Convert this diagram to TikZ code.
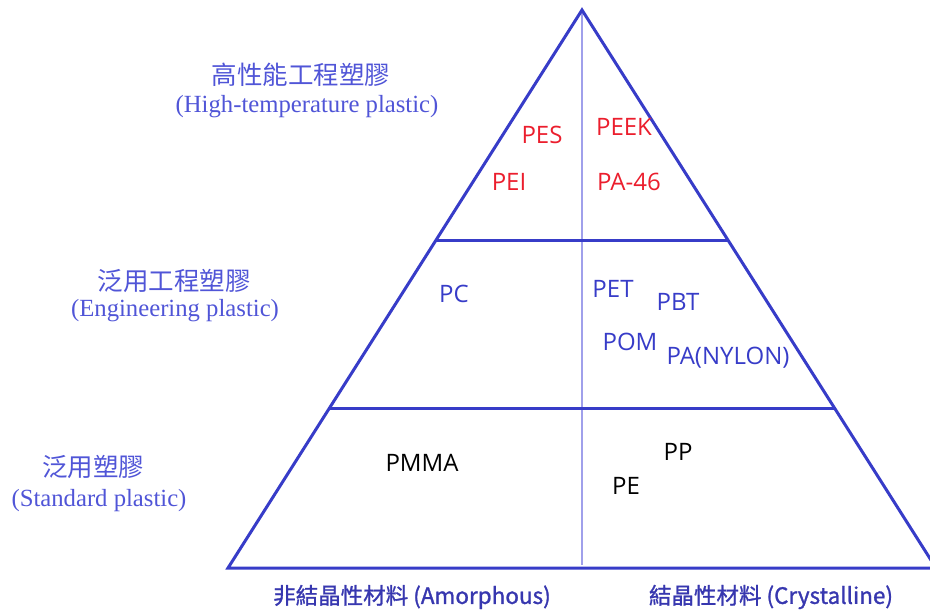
\documentclass[tikz,border=0pt]{standalone}
\usepackage{fontspec}
\setmainfont{Liberation Serif}
\newfontfamily\cjk{Noto Sans CJK TC}
\newfontfamily\cjkax[FakeBold=1.2]{Noto Sans CJK TC}
\newfontfamily\lab{Open Sans}
\definecolor{pyrblue}{RGB}{55,60,200}
\definecolor{midblue}{RGB}{160,160,235}
\definecolor{lvlblue}{RGB}{80,85,215}
\definecolor{plred}{RGB}{235,30,45}
\definecolor{axblue}{RGB}{55,55,175}

\begin{document}
\begin{tikzpicture}[x=1pt,y=-1pt]
\tikzset{niveau/.style={text=lvlblue, inner sep=0pt, font=\cjk\fontsize{25.5}{27}\selectfont},
  anglais/.style={text=lvlblue, inner sep=0pt, font=\rmfamily\fontsize{24.7}{26}\selectfont},
  matiere/.style={font=\lab\fontsize{24}{26}\selectfont, inner sep=0pt},
  chaud/.style={matiere, text=plred},
  inge/.style={matiere, text=pyrblue},
  base/.style={matiere, text=black},
  axe/.style={font=\cjkax\fontsize{22.5}{26}\selectfont, text=axblue, inner sep=0pt},
  bord/.style={draw=pyrblue, line width=3pt, line join=miter}}
\useasboundingbox (0,0) rectangle (930,612);
\clip (0,0) rectangle (930,612);
% pyramide
\coordinate (S) at (582,10);
\coordinate (G) at (228,568);
\coordinate (D) at (936,568);
\coordinate (G1) at (435.5,241);
\coordinate (D1) at (728.5,241);
\coordinate (G2) at (329,409);
\coordinate (D2) at (835,409);
\coordinate (M) at (582,565);
\draw[draw=midblue, line width=1.5pt] (S) -- (M);
\draw[bord] (G) -- (S) -- (D) -- cycle;
\draw[bord] (G1) -- (D1);
\draw[bord] (G2) -- (D2);
% niveaux
\node[niveau] (N1) at (301,75) {高性能工程塑膠};
\node[anglais] (E1) at (307,107) {(High-temperature plastic)};
\node[niveau] (N2) at (174,281) {泛用工程塑膠};
\node[anglais] (E2) at (175,311) {(Engineering plastic)};
\node[niveau] (N3) at (93,467) {泛用塑膠};
\node[anglais] (E3) at (99,501) {(Standard plastic)};
% matieres
\node[chaud] (PES) at (542,135) {PES};
\node[chaud] (PEI) at (509,182) {PEI};
\node[chaud] (PEEK) at (624,127) {PEEK};
\node[chaud] (PA46) at (629,182) {PA-46};
\node[inge] (PC) at (454,294) {PC};
\node[inge] (PET) at (613,289) {PET};
\node[inge] (PBT) at (678,302) {PBT};
\node[inge] (POM) at (630,342) {POM};
\node[inge] (PA) at (728,358) {PA(NYLON)};
\node[base] (PMMA) at (422,463) {PMMA};
\node[base] (PP) at (678,452) {PP};
\node[base] (PE) at (626,486) {PE};
% axes
\node[axe] (AM) at (412,597) {非結晶性材料 (Amorphous)};
\node[axe] (CR) at (771,597) {結晶性材料 (Crystalline)};
\end{tikzpicture}
\end{document}
